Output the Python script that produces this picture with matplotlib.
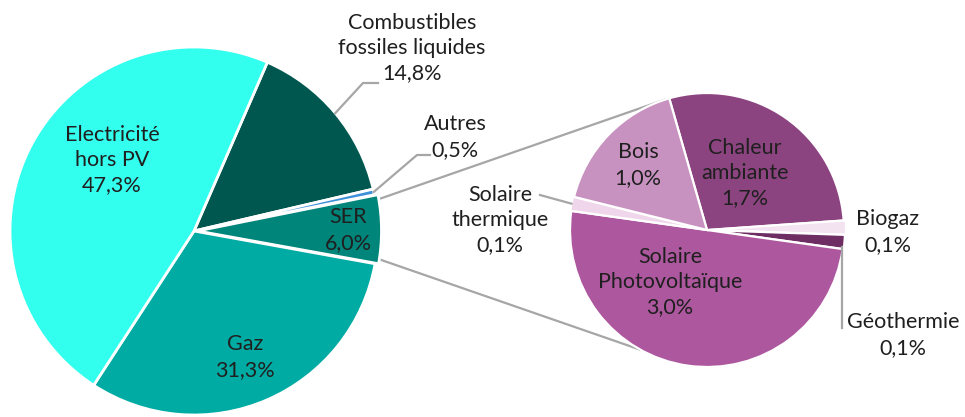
import numpy as np
import matplotlib.pyplot as plt

# main pie (share of total, %)
main_labels = ["Combustibles\nfossiles liquides", "Autres", "SER", "Gaz", "Electricité\nhors PV"]
main_values = [14.8, 0.5, 6.0, 31.3, 47.3]
main_colors = ["#00574F", "#3C8FD8", "#00857B", "#00ABA3", "#33FFEF"]

# breakdown of SER
ser_labels = ["Chaleur\nambiante", "Biogaz", "Géothermie", "Solaire\nPhotovoltaïque", "Solaire\nthermique", "Bois"]
ser_values = [1.7, 0.1, 0.1, 3.0, 0.1, 1.0]
ser_colors = ["#8C4480", "#F3E2F0", "#6E2E64", "#AD579E", "#F0D6EB", "#C892C0"]

TXT = "#1F1F1F"
GREY = "#A6A6A6"
plt.rcParams['font.family'] = ['Lato', 'DejaVu Sans']

fig = plt.figure(figsize=(9.65, 4.17), dpi=100)
ax = fig.add_axes([0, 0, 1, 1])

c1, r1 = (194, 186), 184
c2, r2 = (707, 187), 137

w1, _ = ax.pie(main_values, colors=main_colors, startangle=66.5, counterclock=False,
               center=c1, radius=r1, explode=[0, 0, 3.5, 0, 0],
               wedgeprops=dict(edgecolor="white", linewidth=2.0), frame=True)
w2, _ = ax.pie(ser_values, colors=ser_colors, startangle=106, counterclock=False,
               center=c2, radius=r2, explode=[0, 2, 1, 0, 1, 0],
               wedgeprops=dict(edgecolor="white", linewidth=1.6), frame=True)
ax.set_xlim(0, 965)
ax.set_ylim(0, 417)
ax.set_aspect('equal')
ax.axis('off')


def pt(w, ang, rf=1.0):
    cx, cy = w.center
    a = np.radians(ang)
    return cx + w.r * rf * np.cos(a), cy + w.r * rf * np.sin(a)


def mid(w):
    return (w.theta1 + w.theta2) / 2


def fmt(v):
    return f"{v:.1f}%".replace('.', ',')


# connectors between SER and second pie
ser = w1[2]
p_top = pt(ser, ser.theta2 - 1.5, 0.99)
p_bot = pt(ser, ser.theta1 + 1.5, 0.99)
q_top = (c2[0] + r2 * np.cos(np.radians(108)), c2[1] + r2 * np.sin(np.radians(108)))
q_bot = (c2[0] + r2 * np.cos(np.radians(-119)), c2[1] + r2 * np.sin(np.radians(-119)))
ax.plot([p_top[0], q_top[0]], [p_top[1], q_top[1]], color=GREY, lw=1.6, zorder=0)
ax.plot([p_bot[0], q_bot[0]], [p_bot[1], q_bot[1]], color=GREY, lw=1.6, zorder=0)

kw = dict(ha='center', va='center', fontsize=15.5, color=TXT, linespacing=1.33)

# main pie labels
main_pos = [(412, 369), (455, 280), (348, 187), (245, 60), (112, 257)]
for i, (lab, v) in enumerate(zip(main_labels, main_values)):
    ax.text(main_pos[i][0], main_pos[i][1], f"{lab}\n{fmt(v)}", **kw)

# sub pie labels
ser_pos = [(745, 244), (888, 185), (903, 82), (670, 135), (500, 197), (638, 252)]
for i, (lab, v) in enumerate(zip(ser_labels, ser_values)):
    ax.text(ser_pos[i][0], ser_pos[i][1], f"{lab}\n{fmt(v)}", **kw)

# leader lines
a = pt(w1[0], mid(w1[0]))
ax.plot([a[0], 363, 378], [a[1], 334, 334], color=GREY, lw=1.6)
a = pt(w1[1], mid(w1[1]))
ax.plot([a[0], 417, 430], [a[1], 262, 262], color=GREY, lw=1.6)
a = pt(w2[4], mid(w2[4]))
ax.plot([a[0], 540], [a[1], 222], color=GREY, lw=1.6)
a = pt(w2[2], w2[2].theta1 + 1, 1.0)
ax.plot([a[0] - 2, a[0] - 2], [a[1], 89], color=GREY, lw=1.6)

fig.savefig("out.png", dpi=100)
